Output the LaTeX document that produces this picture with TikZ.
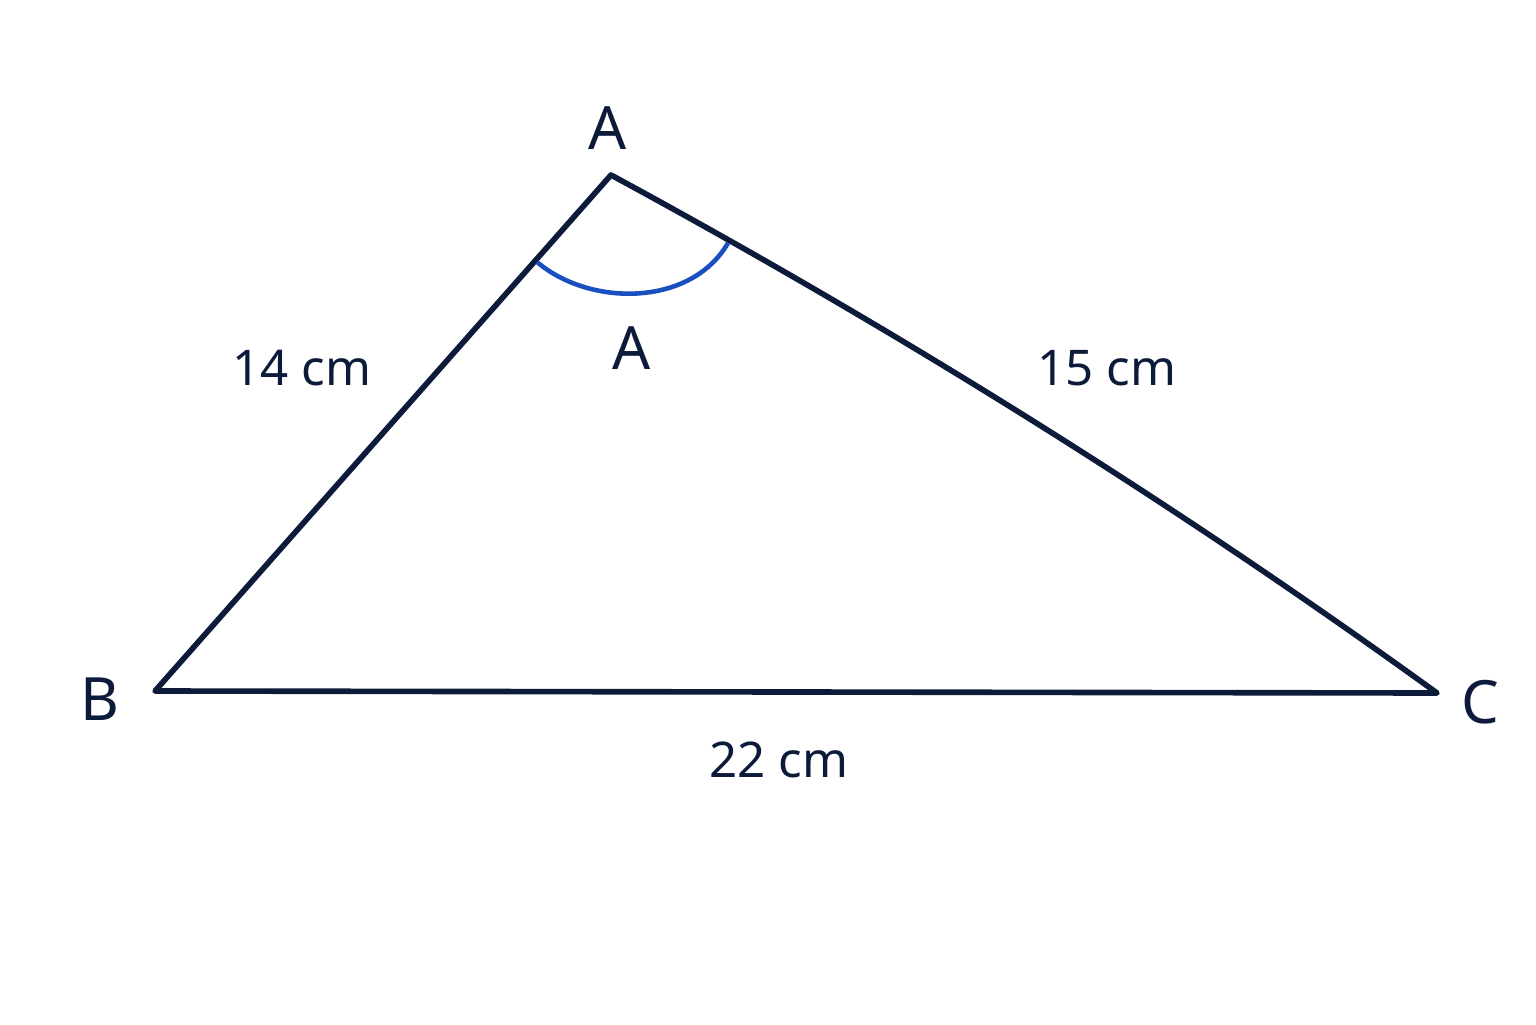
\documentclass[tikz,border=0pt]{standalone}
\usepackage{fontspec}
\setmainfont{Noto Sans}
\usepackage{tikz}
\usetikzlibrary{calc}

\definecolor{navy}{HTML}{0D1B3A}
\definecolor{arcblue}{HTML}{1A4FC0}

\begin{document}
\begin{tikzpicture}[
    side/.style={draw=navy, line width=1.6pt, line join=round, line cap=round},
    anglearc/.style={draw=arcblue, line width=1.3pt},
    vlabel/.style={text=navy, font=\fontsize{17}{20}\selectfont},
    slabel/.style={text=navy, font=\fontsize{14}{17}\selectfont}
  ]
  \useasboundingbox (0,0) rectangle (15.36,10.24);
  \coordinate (A) at (6.11,8.49);
  \coordinate (B) at (1.55,3.33);
  \coordinate (C) at (14.37,3.31);
  \coordinate (arcB) at (5.37,7.62);
  \coordinate (arcC) at (7.28,7.81);
  % sides
  \path[side] (B) -- (A) .. controls (8.97,6.94) and (11.73,5.22) .. (C) -- cycle;
  \path[anglearc] (arcB) .. controls (5.90,7.17) and (6.91,7.17) .. (arcC);
  % labels
  \node[vlabel] (lA) at (6.08,8.96) {A};
  \node[vlabel] (lB) at (1.00,3.25) {B};
  \node[vlabel] (lC) at (14.80,3.22) {C};
  \node[vlabel] (angA) at (6.32,6.76) {A};
  \node[slabel] (ab) at (3.02,6.56) {14 cm};
  \node[slabel] (ac) at (11.07,6.56) {15 cm};
  \node[slabel] (bc) at (7.79,2.64) {22 cm};
\end{tikzpicture}
\end{document}
